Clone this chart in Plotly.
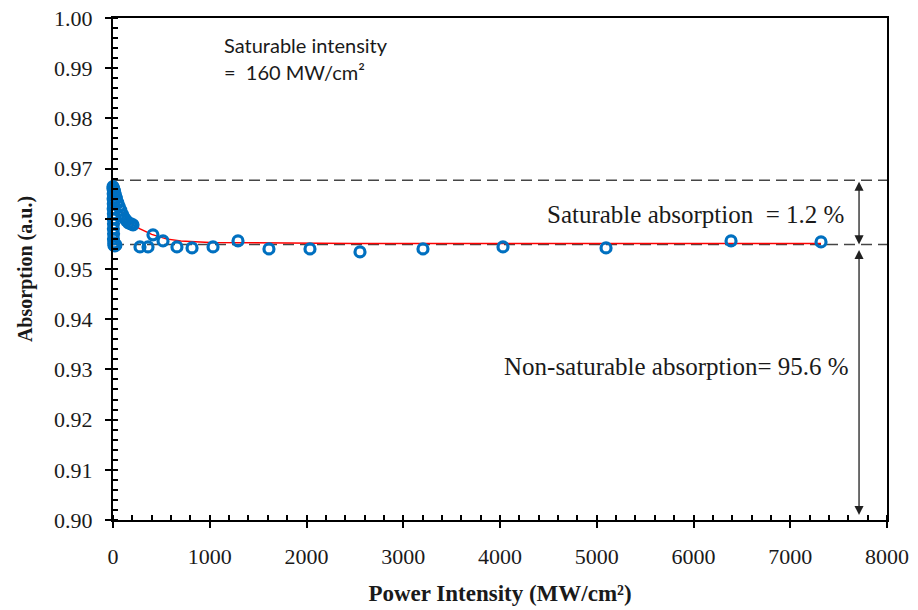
import plotly.graph_objects as go

# ---------------- data ----------------
# measured points: power intensity (MW/cm^2) and absorption (a.u.)
meas_x = [0, 8, 15, 25, 35, 50, 65, 80, 100, 120, 140, 160, 185, 207,
          0, 2, 1, 3, 2, 4, 3, 5, 4, 6, 5, 8, 10, 20, 30,
          279, 362, 413, 517, 661, 817, 1034, 1292, 1612, 2036, 2553,
          3204, 4031, 5096, 6388, 7318]
meas_y = [0.9664, 0.9660, 0.9655, 0.9648, 0.9641, 0.9632, 0.9624, 0.9617,
          0.9608, 0.9601, 0.9596, 0.9592, 0.9590, 0.9588,
          0.9660, 0.9650, 0.9640, 0.9630, 0.9620, 0.9610, 0.9600, 0.9590,
          0.9580, 0.9570, 0.9560, 0.9552, 0.9547, 0.9546, 0.9548,
          0.9544, 0.9544, 0.9568, 0.9556, 0.9544, 0.9542, 0.9544, 0.9556,
          0.9540, 0.9540, 0.9534, 0.9540, 0.9544, 0.9542, 0.9556, 0.9554]

# fitted curve (red)
fit_x = [0, 20, 50, 100, 150, 200, 280, 400, 550, 700, 1000, 1500, 2500,
         4000, 6000, 7318]
fit_y = [0.9665, 0.9645, 0.9625, 0.9610, 0.9598, 0.9589, 0.9580, 0.9569,
         0.9560, 0.9556, 0.9553, 0.9552, 0.9551, 0.9551, 0.9551, 0.9551]

# reference levels
level_top = 0.9677
level_bottom = 0.9549
axis_min = 0.90
arrow_x = 7711

x_ticks = [0, 1000, 2000, 3000, 4000, 5000, 6000, 7000, 8000]
y_ticks = [0.90, 0.91, 0.92, 0.93, 0.94, 0.95, 0.96, 0.97, 0.98, 0.99, 1.00]

BLUE = "#0070C0"
SERIF = "Liberation Serif"
TXT = "#1a1a1a"

fig = go.Figure()

fig.add_trace(go.Scatter(
    x=fit_x, y=fit_y, mode="lines",
    line=dict(color="#FF0000", width=1.5),
    showlegend=False, hoverinfo="skip"))

fig.add_trace(go.Scatter(
    x=meas_x, y=meas_y, mode="markers",
    marker=dict(symbol="circle-open", size=10, color=BLUE,
                line=dict(color=BLUE, width=3.2)),
    cliponaxis=False, showlegend=False))

for lv in (level_top, level_bottom):
    fig.add_shape(type="line", xref="paper", yref="y",
                  x0=0, x1=1.0103, y0=lv, y1=lv, layer="below",
                  line=dict(color="#454545", width=1.5, dash="11px,6px"))

# double-headed arrows
fig.add_annotation(x=arrow_x, y=level_bottom, ax=arrow_x, ay=level_top,
                   xref="x", yref="y", axref="x", ayref="y", text="",
                   showarrow=True, arrowhead=2, arrowside="end+start",
                   arrowsize=1.4, arrowwidth=1.3, arrowcolor="#202020")
fig.add_annotation(x=arrow_x, y=axis_min + 0.001, ax=arrow_x, ay=level_bottom - 0.0008,
                   xref="x", yref="y", axref="x", ayref="y", text="",
                   showarrow=True, arrowhead=2, arrowside="end+start",
                   arrowsize=1.4, arrowwidth=1.3, arrowcolor="#202020")

# texts
fig.add_annotation(x=1127, y=0.9946, xref="x", yref="y", xanchor="left",
                   text="Saturable intensity", showarrow=False,
                   font=dict(family="Lato", size=20, color=TXT))
fig.add_annotation(x=1127, y=0.9892, xref="x", yref="y", xanchor="left",
                   text="=  160 MW/cm²", showarrow=False,
                   font=dict(family="Lato", size=20, color=TXT))
fig.add_annotation(x=7576, y=0.9608, xref="x", yref="y", xanchor="right",
                   text="Saturable absorption  = 1.2 %", showarrow=False,
                   font=dict(family=SERIF, size=25, color=TXT))
fig.add_annotation(x=7628, y=0.9305, xref="x", yref="y", xanchor="right",
                   text="Non-saturable absorption= 95.6 %", showarrow=False,
                   font=dict(family=SERIF, size=25, color=TXT))

axis_common = dict(showgrid=False, zeroline=False, showline=True,
                   linecolor="black", linewidth=2, mirror=True,
                   automargin=False,
                   ticks="outside", ticklen=6, tickwidth=2, tickcolor="black",
                   tickfont=dict(family=SERIF, size=22, color=TXT))

fig.update_xaxes(range=[0, 8000], tickvals=x_ticks,
                 ticktext=[str(v) for v in x_ticks],
                 ticklabelstandoff=10,
                 minor=dict(dtick=200, ticks="inside", ticklen=5,
                            tickwidth=1.5, tickcolor="black"),
                 title=dict(text="<b>Power Intensity (MW/cm²)</b>",
                            font=dict(family=SERIF, size=23, color=TXT),
                            standoff=16),
                 **axis_common)
fig.update_yaxes(range=[0.90, 1.00], tickvals=y_ticks,
                 ticktext=[f"{v:.2f}" for v in y_ticks],
                 ticklabelstandoff=8,
                 minor=dict(dtick=0.002, ticks="inside", ticklen=5,
                            tickwidth=1.5, tickcolor="black"),
                 title=dict(text="<b>Absorption (a.u.)</b>",
                            font=dict(family=SERIF, size=20, color=TXT),
                            standoff=16),
                 **axis_common)

fig.update_layout(width=918, height=610,
                  margin=dict(l=113, r=31, t=18, b=90),
                  paper_bgcolor="white", plot_bgcolor="white",
                  showlegend=False)

fig.write_html("out.html")
